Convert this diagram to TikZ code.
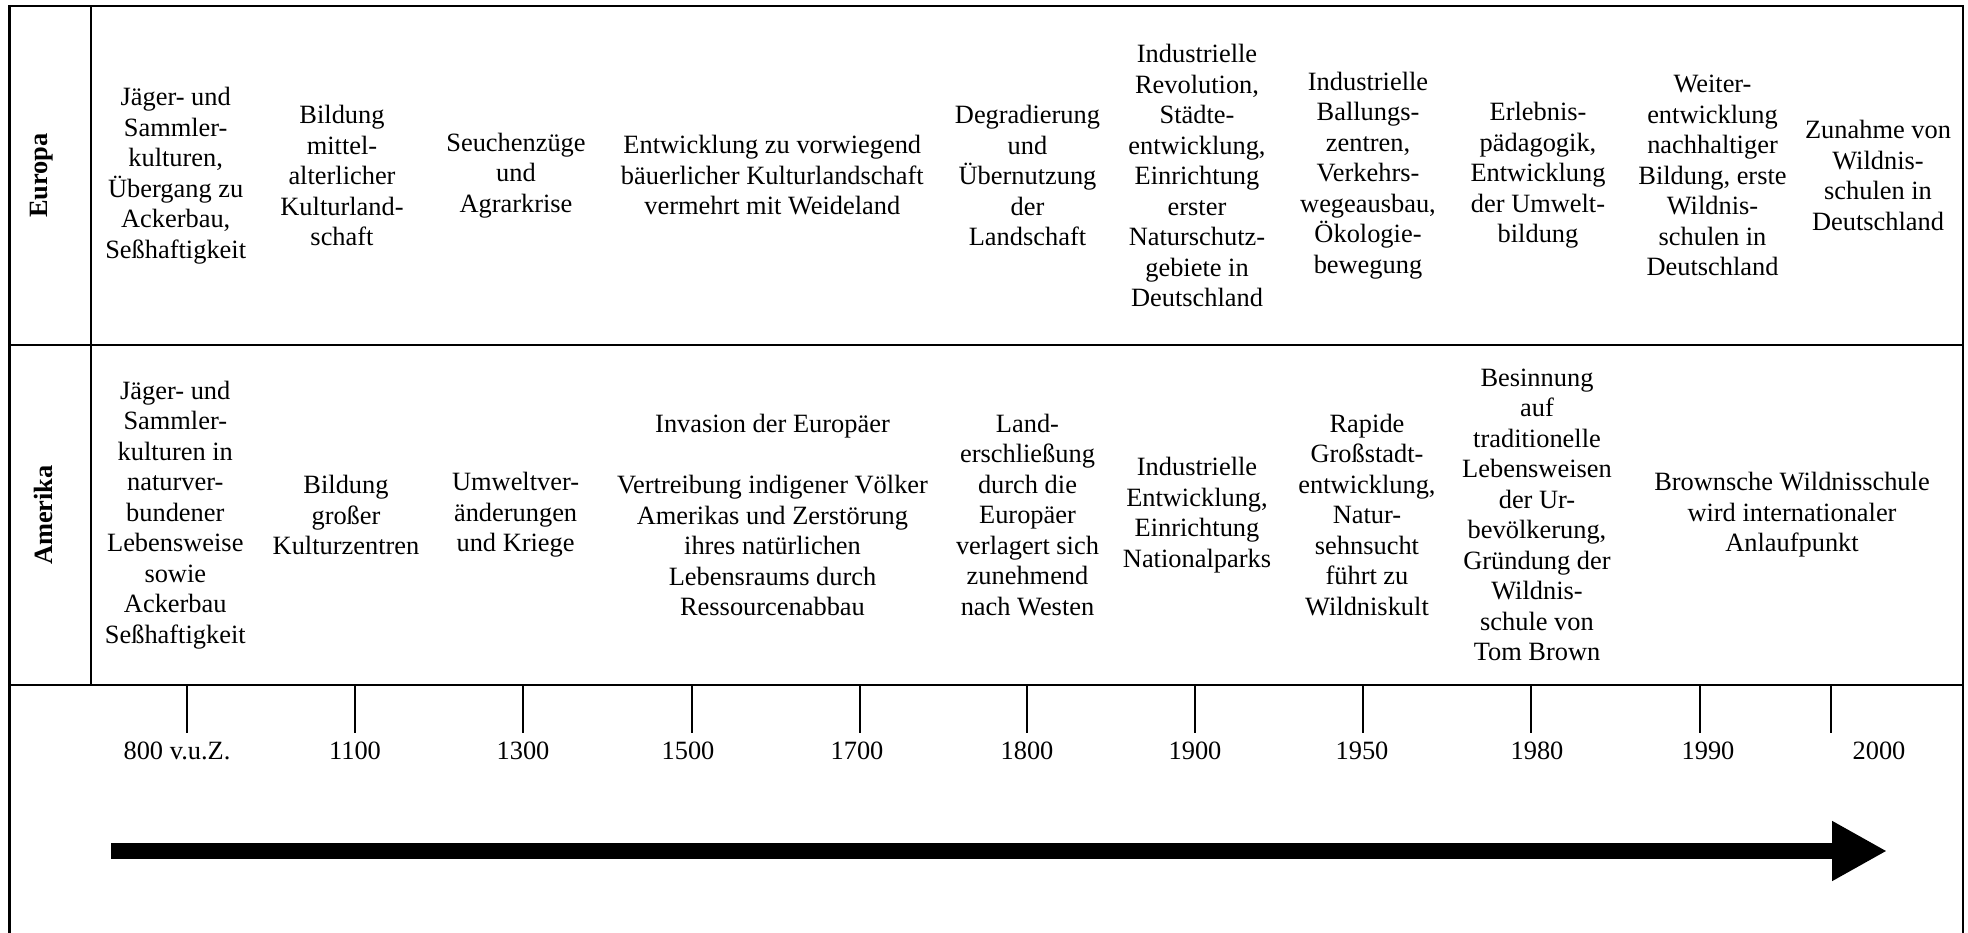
\documentclass[tikz,border=0pt]{standalone}
\usepackage{fontspec}
\setmainfont{Liberation Serif}
\usetikzlibrary{arrows.meta}

\begin{document}
\begin{tikzpicture}[x=0.4545pt,y=-0.4545pt,
        rule/.style={line width=1pt},
        cell/.style={align=center,inner sep=0pt,font=\fontsize{12}{13.86}\selectfont},
        rowlabel/.style={rotate=90,inner sep=0pt,font=\fontsize{12}{13.86}\selectfont\bfseries},
        year/.style={inner sep=0pt,font=\fontsize{12}{13.86}\selectfont}]
    \useasboundingbox (0,0) rectangle (1968,933);
    % frame and table rules
    \coordinate (tl) at (9.5,6);     \coordinate (tr) at (1962.7,6);
    \coordinate (bl) at (9.5,933);   \coordinate (br) at (1962.7,933);
    \coordinate (ml) at (9.5,345);   \coordinate (mr) at (1962.7,345);
    \coordinate (ll) at (9.5,685);   \coordinate (lr) at (1962.7,685);
    \coordinate (ct) at (90.7,6);    \coordinate (cb) at (90.7,685);
    \draw[rule] (bl) -- (tl) -- (tr) -- (br);
    \draw[rule] (ml) -- (mr);
    \draw[rule] (ll) -- (lr);
    \draw[rule] (ct) -- (cb);
    % row labels
    \node[rowlabel] (europa) at (42,175.5) {Europa};
    \node[rowlabel] (amerika) at (43,515) {Amerika};
    % Europa
    \node[cell] (eu1) at (175.7,175.5) {Jäger- und\\Sammler-\\kulturen,\\Übergang zu\\Ackerbau,\\Seßhaftigkeit};
    \node[cell] (eu2) at (342,175.5) {Bildung\\mittel-\\alterlicher\\Kulturland-\\schaft};
    \node[cell] (eu3) at (516,175.5) {Seuchenzüge\\und\\Agrarkrise};
    \node[cell] (eu4) at (772.3,175.5) {Entwicklung zu vorwiegend\\bäuerlicher Kulturlandschaft\\vermehrt mit Weideland};
    \node[cell] (eu5) at (1027.5,175.5) {Degradierung\\und\\Übernutzung\\der\\Landschaft};
    \node[cell] (eu6) at (1197,175.5) {Industrielle\\Revolution,\\Städte-\\entwicklung,\\Einrichtung\\erster\\Naturschutz-\\gebiete in\\Deutschland};
    \node[cell] (eu7) at (1368,175.5) {Industrielle\\Ballungs-\\zentren,\\Verkehrs-\\wegeausbau,\\Ökologie-\\bewegung};
    \node[cell] (eu8) at (1538,175.5) {Erlebnis-\\pädagogik,\\Entwicklung\\der Umwelt-\\bildung};
    \node[cell] (eu9) at (1712.5,175.5) {Weiter-\\entwicklung\\nachhaltiger\\Bildung, erste\\Wildnis-\\schulen in\\Deutschland};
    \node[cell] (eu10) at (1878,175.5) {Zunahme von\\Wildnis-\\schulen in\\Deutschland};
    % Amerika
    \node[cell] (am1) at (175.3,515) {Jäger- und\\Sammler-\\kulturen in\\naturver-\\bundener\\Lebensweise\\sowie\\Ackerbau\\Seßhaftigkeit};
    \node[cell] (am2) at (346,515) {Bildung\\großer\\Kulturzentren};
    \node[cell] (am3) at (515.6,515) {Umweltver-\\änderungen\\und Kriege};
    \node[cell] (am4) at (772.5,515) {Invasion der Europäer\\[13.86pt]Vertreibung indigener Völker\\Amerikas und Zerstörung\\ihres natürlichen\\Lebensraums durch\\Ressourcenabbau};
    \node[cell] (am5) at (1027.5,515) {Land-\\erschließung\\durch die\\Europäer\\verlagert sich\\zunehmend\\nach Westen};
    \node[cell] (am6) at (1197,515) {Industrielle\\Entwicklung,\\Einrichtung\\Nationalparks};
    \node[cell] (am7) at (1367,515) {Rapide\\Großstadt-\\entwicklung,\\Natur-\\sehnsucht\\führt zu\\Wildniskult};
    \node[cell] (am8) at (1537,515) {Besinnung\\auf\\traditionelle\\Lebensweisen\\der Ur-\\bevölkerung,\\Gründung der\\Wildnis-\\schule von\\Tom Brown};
    \node[cell] (am9) at (1792,515) {Brownsche Wildnisschule\\wird internationaler\\Anlaufpunkt};
    % time scale
    \foreach \i/\tx in {1/187,2/355,3/523,4/692,5/860,6/1027,7/1195,8/1363,9/1531,10/1700,11/1831}{
        \coordinate (tick\i) at (\tx,685);
        \coordinate (tickend\i) at (\tx,733);
        \draw[rule] (tick\i) -- (tickend\i);
    }
    \node[year] (y1) at (177,750.5) {800 v.u.Z.};
    \node[year] (y2) at (355,750.5) {1100};
    \node[year] (y3) at (523,750.5) {1300};
    \node[year] (y4) at (688,750.5) {1500};
    \node[year] (y5) at (857,750.5) {1700};
    \node[year] (y6) at (1027,750.5) {1800};
    \node[year] (y7) at (1195,750.5) {1900};
    \node[year] (y8) at (1362,750.5) {1950};
    \node[year] (y9) at (1537,750.5) {1980};
    \node[year] (y10) at (1708,750.5) {1990};
    \node[year] (y11) at (1879,750.5) {2000};
    % arrow
    \coordinate (arrowstart) at (111,851);
    \coordinate (arrowend) at (1887,851);
    \draw[line width=7.27pt,-{Triangle[length=25pt,width=25.5pt]}] (arrowstart) -- (arrowend);
\end{tikzpicture}
\end{document}
